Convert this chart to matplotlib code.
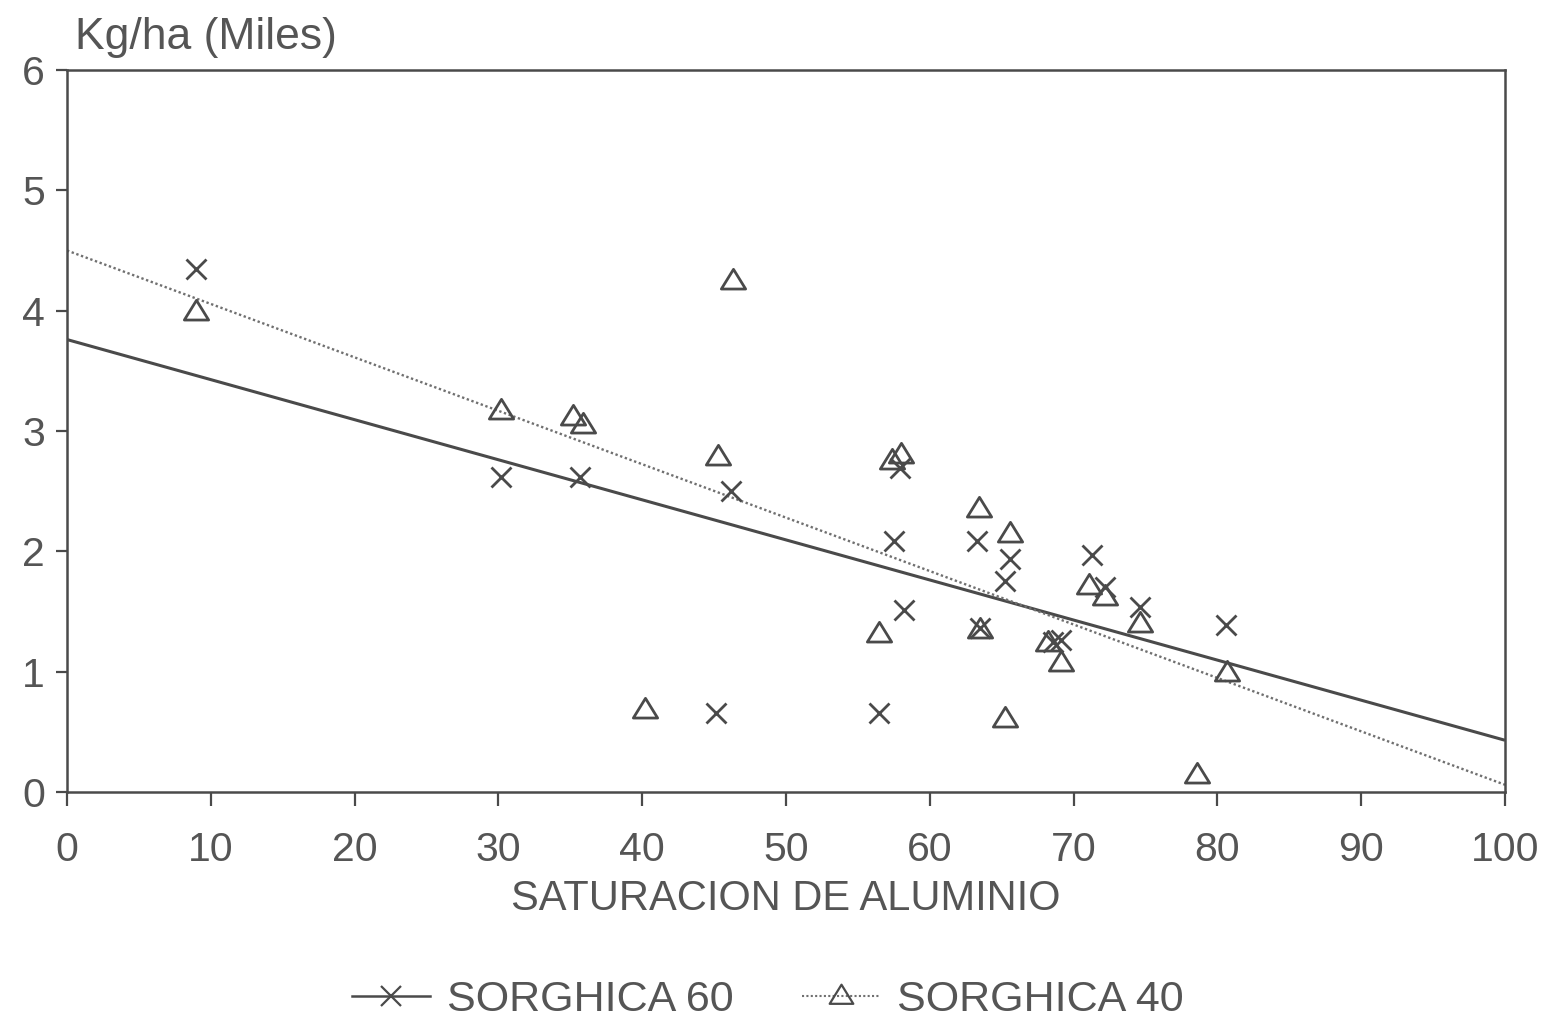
import matplotlib
matplotlib.use("Agg")
import matplotlib.pyplot as plt
import numpy as np
from matplotlib.path import Path
from matplotlib.lines import Line2D

# --- data -------------------------------------------------------------
# SORGHICA 60 : aluminium saturation (%) vs yield (thousand kg/ha)
s60_x = [9.0, 30.2, 35.7, 45.1, 46.2, 56.5, 57.5, 57.9, 58.2, 63.3,
         63.5, 65.2, 65.6, 68.6, 69.1, 71.3, 72.2, 74.6, 80.6]
s60_y = [4.35, 2.62, 2.62, 0.66, 2.50, 0.66, 2.09, 2.69, 1.51, 2.09,
         1.36, 1.75, 1.94, 1.25, 1.26, 1.97, 1.70, 1.54, 1.39]

# SORGHICA 40
s40_x = [9.0, 30.2, 35.2, 35.9, 40.2, 45.3, 46.3, 56.5, 57.4, 58.0,
         63.4, 63.5, 65.2, 65.6, 68.2, 69.1, 71.1, 72.2, 74.6, 78.6, 80.7]
s40_y = [3.99, 3.17, 3.12, 3.05, 0.68, 2.78, 4.25, 1.31, 2.75, 2.80,
         2.35, 1.35, 0.61, 2.14, 1.24, 1.07, 1.71, 1.62, 1.40, 0.14, 0.99]

# linear fits (intercept, slope)
fit60 = (3.76, -0.0333)
fit40 = (4.50, -0.0444)

x_ticks = [0, 10, 20, 30, 40, 50, 60, 70, 80, 90, 100]
y_ticks = [0, 1, 2, 3, 4, 5, 6]

# --- style ------------------------------------------------------------
ink = "#4a4a4a"
txt = "#555555"
plt.rcParams["font.family"] = ["Liberation Sans", "DejaVu Sans"]

fig = plt.figure(figsize=(15.43, 10.23), dpi=100)
ax = fig.add_axes([67 / 1543, 1 - 792 / 1023, (1505 - 67) / 1543, (792 - 70) / 1023])

# open triangle marker, a bit wider than tall
tri = Path([(-1.0, -0.62), (1.0, -0.62), (0.0, 1.0), (-1.0, -0.62)],
           [Path.MOVETO, Path.LINETO, Path.LINETO, Path.CLOSEPOLY])

xl = np.array([0, 100])
ax.plot(xl, fit60[0] + fit60[1] * xl, color=ink, lw=2.2, solid_capstyle="butt")
ax.plot(xl, fit40[0] + fit40[1] * xl, color="#707070", lw=1.7,
        linestyle=(0, (1, 1.1)))

ax.plot(s60_x, s60_y, linestyle="none", marker="x", markersize=14,
        markeredgewidth=2.0, color=ink)
ax.plot(s40_x, s40_y, linestyle="none", marker=tri, markersize=17.5,
        markerfacecolor="none", markeredgewidth=2.0, markeredgecolor=ink)

ax.set_xlim(0, 100)
ax.set_ylim(0, 6)
ax.set_xticks(x_ticks)
ax.set_yticks(y_ticks)
ax.tick_params(axis="x", direction="out", length=10, width=1.6, color=ink,
               labelsize=29.5, labelcolor=txt, pad=18)
ax.tick_params(axis="y", direction="out", length=8, width=1.6, color=ink,
               labelsize=29.5, labelcolor=txt, pad=8)
for sp in ax.spines.values():
    sp.set_color(ink)
    sp.set_linewidth(1.8)

ax.set_xlabel("SATURACION DE ALUMINIO", fontsize=30, color=txt, labelpad=7)
fig.text(75 / 1543, 1 - 38 / 1023, "Kg/ha (Miles)", fontsize=32, color=txt,
         ha="left", va="center")

handles = [
    Line2D([], [], color=ink, lw=1.8, marker="x", markersize=14,
           markeredgewidth=1.6),
    Line2D([], [], color="#707070", lw=1.5, linestyle=(0, (1, 1.1)),
           marker=tri, markersize=17, markerfacecolor="none",
           markeredgewidth=1.6, markeredgecolor=ink),
]
fig.legend(handles, ["SORGHICA 60", "SORGHICA 40"], loc="center",
           bbox_to_anchor=(768 / 1543, 1 - 1000 / 1023), ncol=2,
           frameon=False, fontsize=31, handlelength=1.8, handletextpad=0.4,
           columnspacing=1.6, labelcolor=txt)

fig.savefig("out.png", dpi=100, facecolor="white")
